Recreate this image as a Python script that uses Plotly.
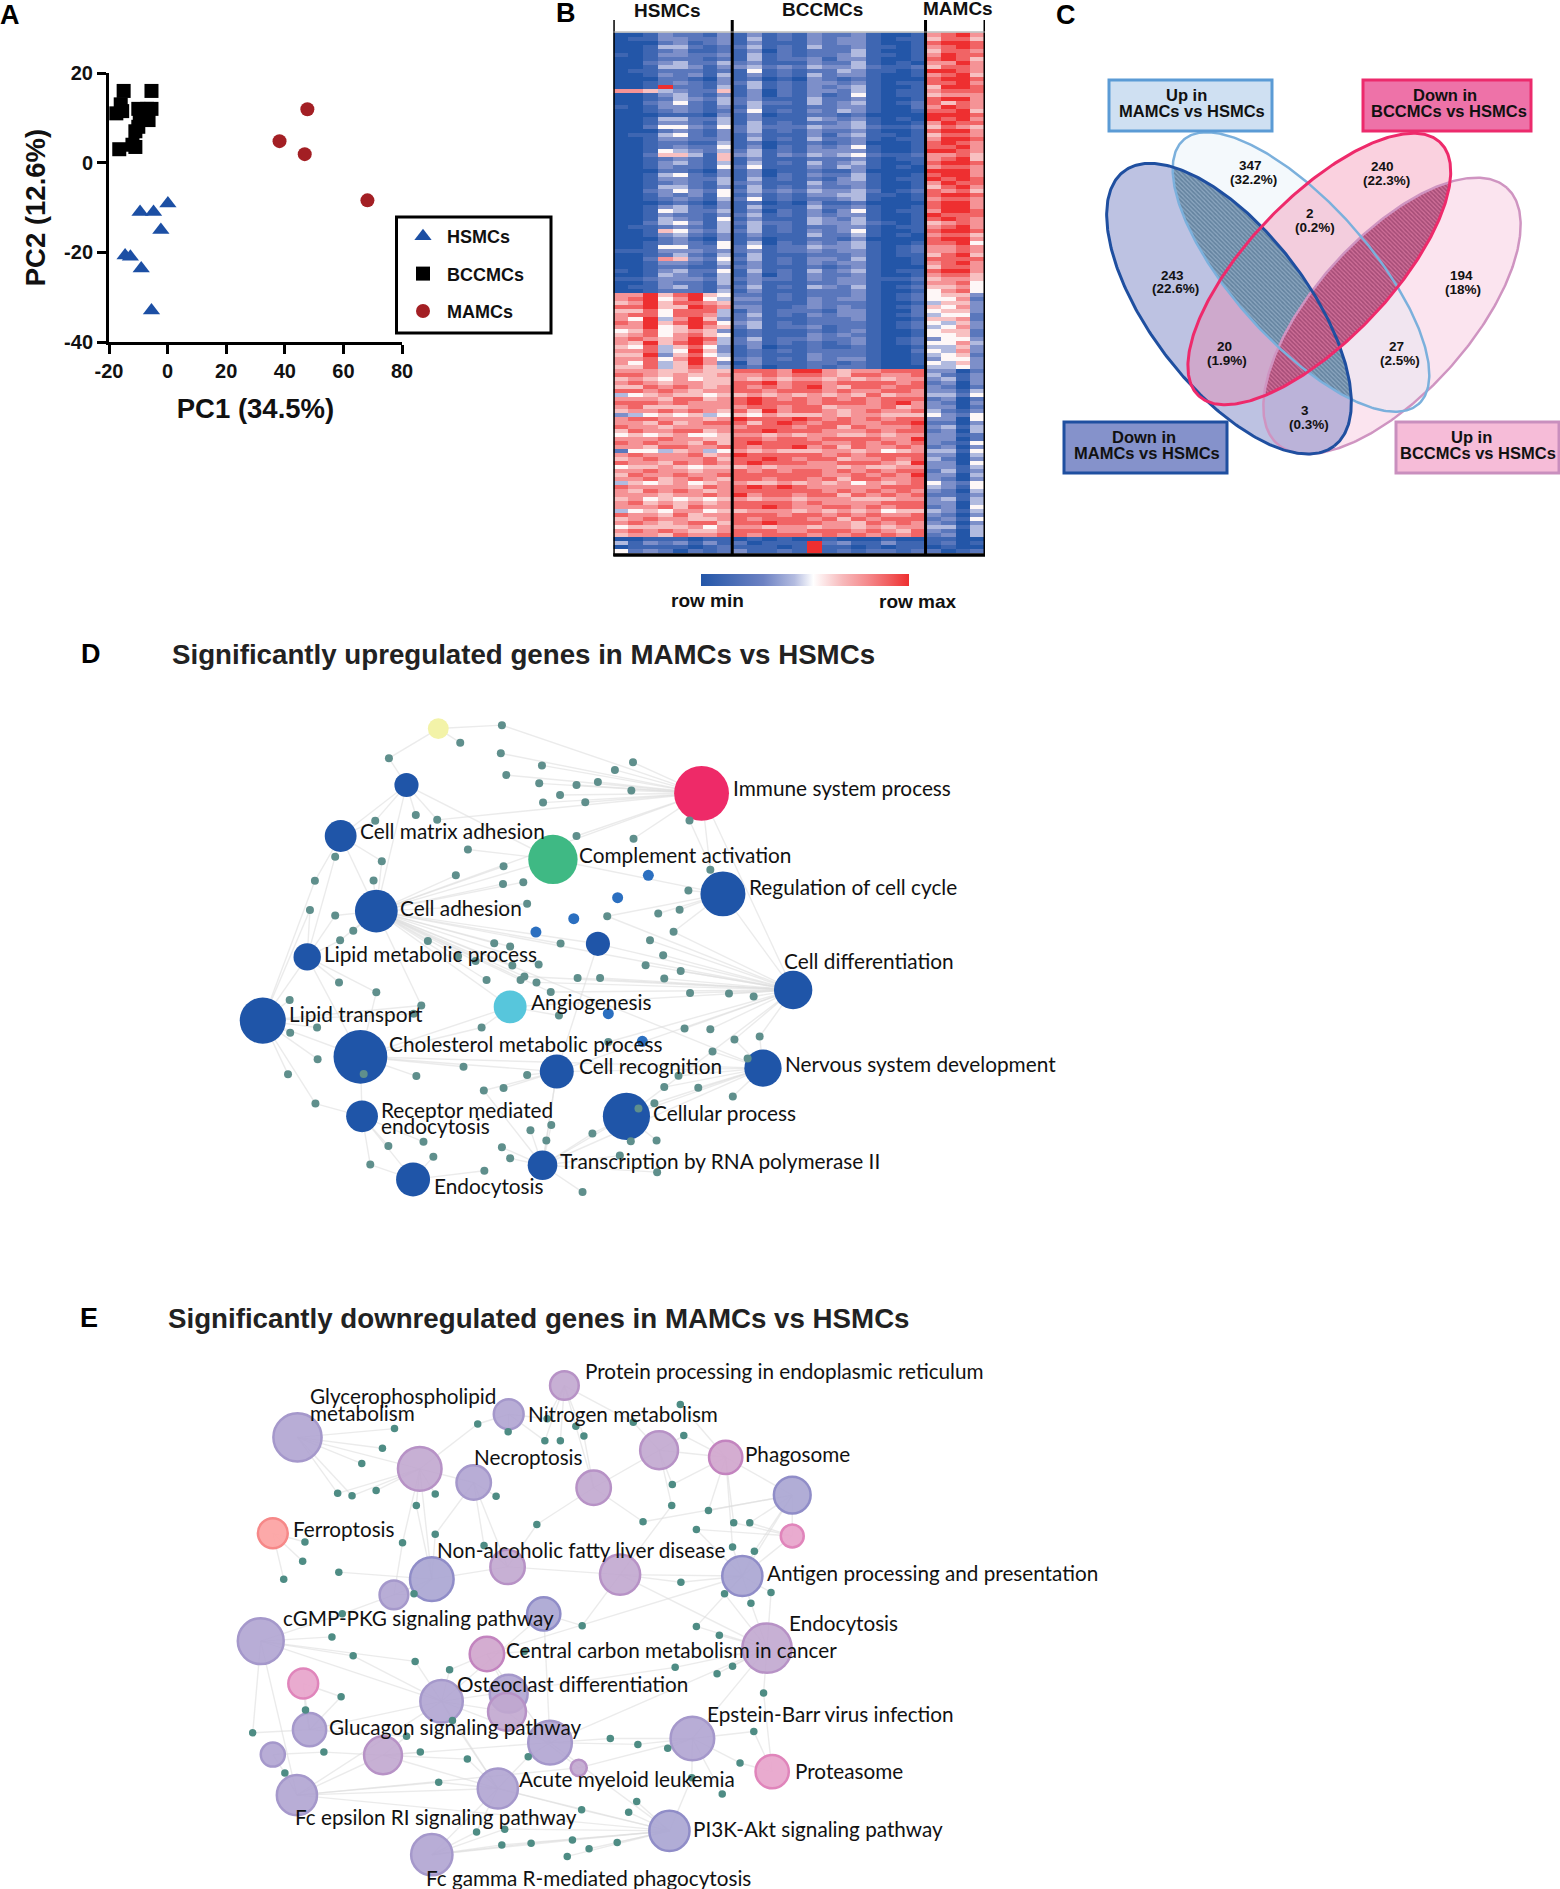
import numpy as np
import plotly.graph_objects as go

W, H = 1560, 1889
SANS = "Liberation Sans"
NET = "Lato"

# ---------- Panel A ----------
hsmc_x = [0.1, -9.4, -4.8, -2.3, -14.5, -12.7, -9.0, -5.5]
hsmc_y = [-9.1, -11, -11, -15, -20.7, -21, -23.6, -33]
bccmc_x = [-15, -5.5, -16, -17.5, -15.5, -10, -9.5, -5.5, -7, -6.5, -8, -11, -10, -16.5, -12, -11]
bccmc_y = [16, 16, 13, 11, 11.5, 12, 11, 12, 12, 9.5, 10.5, 7, 8, 3, 4, 3.5]
mamc_x = [47.7, 38.2, 46.8, 68.2]
mamc_y = [11.9, 4.8, 1.9, -8.4]
pca_xticks = [-20, 0, 20, 40, 60, 80]
pca_yticks = [-40, -20, 0, 20]

# ---------- Panel B: one string per gene row, 0 = row min ... 9 = row max ----------
heat_groups = ["HSMCs", "BCCMCs", "MAMCs"]
heat_rows = """
00132213 1312132231001 7897
01133223 1412132331011 6886
00023123 1311132331001 8998
00144212 2412142231101 7898
00123112 1302122241001 6887
10133223 1412122341101 7988
00122212 1412231331001 8986
00234224 2311132241010 7797
00144313 3423243342112 6887
01122212 1512122431101 9987
00132314 1312142331001 7896
00022103 1201032121000 8998
00123213 2412133231011 8897
00192214 1412132341001 6998
77643226 1302133241011 7888
00134213 1302131251011 6777
00124324 2311142231001 8997
00235214 2422142341012 8687
10133213 1411122331002 7987
00123212 2512132431001 8896
00011103 1301122120000 9998
00144224 1311143231010 9897
00133214 1412122341001 7988
00255325 2422243342112 6876
00023213 2412132231001 8997
01145213 1311131341101 6887
00133223 1412142231011 7998
00122114 1201121230001 8987
00123225 1302132351001 8897
00154324 2412133331001 9987
00266416 3413243452112 7786
00123216 1311122231011 7896
00134214 1412142341001 8998
00132215 2511132431010 7887
00022103 1301121130000 9997
00145213 1302132241001 8997
00133224 1412121341011 9898
00123214 2311142331001 7988
00144213 1412132231001 6897
00235325 2423243342012 8786
00132315 1312133441101 8998
00123214 2512122341001 7887
00012103 1201031120000 8997
00134213 1411142231001 8997
00154224 1302131351011 7998
00132213 2412132331001 9888
00143215 1311143241001 8987
00245314 2422143342101 6787
01123214 1412122331011 7897
00165324 2412132351001 8998
00134213 1311142241010 7886
00023103 1201122130000 8997
00123215 1402132341001 8895
00155225 2512243341012 7787
11133323 2312232331012 7787
00124214 1411122231011 6896
00276325 2412133241001 8888
00133214 1312132331001 7897
00122113 2311121231000 6887
10134225 1412142341011 8997
00143214 1302132231001 7886
11233324 2322132331112 6776
00132214 1311122331001 7785
01134213 2412143241012 6675
00122214 1311122231001 5785
77968965 2212122231012 5663
78957954 3312132331012 5572
67968876 2211132221001 4663
88966987 3311232321012 6573
66858884 1312221331002 5663
78858874 2412132331012 4552
75947963 2311122231001 6672
87968985 3412122221012 5463
77956976 2412231221012 4573
56856763 1211121231001 5662
67857865 1211132321001 5562
78767984 2412232231012 3553
76968974 2312121231012 5574
65846853 1301121121001 4463
77845963 1212122221002 5473
66936854 1211132221001 4562
77857975 2312132331001 3553
75846973 0311122121001 5463
66846864 1201121221000 4453
77766766 8887997677888 3302
88767667 7787887688778 4213
67657566 7676776767677 3413
78767766 8897887888878 2303
66878767 8787897688788 3202
88787677 8878887877887 3314
45676656 6767676768677 4425
77768867 8987878787888 2302
88878777 8988878887897 3203
78666777 7887886777867 3302
67787876 8697887678778 4213
34565645 6576667677666 5325
78877767 9888987878788 3305
77686788 8689878877889 2203
87767777 7888788687778 3414
68778867 8898887778788 2304
56567556 7767677667677 3312
77787766 8878878888779 3302
87877686 8988887787878 3215
77688778 8788978687787 2303
25546745 7676667767567 4415
78777867 9888887878888 3304
67877786 8898788677878 4203
87768787 8988877888769 3305
56676566 6767777676677 3314
77877677 8787887878788 2413
68778778 8888887787879 3304
77867876 8878878688778 3203
46567567 7667676757678 5325
87777687 8989877777888 4315
76878767 8888887878787 3204
77767787 9788788687878 2213
67565656 7677677766677 3414
78676767 8888787777888 3304
77786877 8898778878788 2305
45657756 6777676767566 4314
87768677 8887887878778 3203
67877667 8788878687888 2315
78767886 8898887768787 3203
56666757 7767767767677 4414
78787667 8887788878768 3204
67768778 8788878787878 2304
00111011 0101001000100 1100
41323131 2011192311311 1201
01111012 1110191101011 0100
52320212 3112191212212 2012
""".split("\n")
heat_z = [[int(c) for c in r.replace(" ", "")] for r in heat_rows if r.strip()]

# ---------- Panel C ----------
venn_counts = ["347", "240", "2", "243", "194", "20", "27", "3"]
venn_pcts = ["(32.2%)", "(22.3%)", "(0.2%)", "(22.6%)", "(18%)", "(1.9%)", "(2.5%)", "(0.3%)"]

# ---------- Panel D network ----------
d_hub_key = list("YBIMCRAULDVTHGNPKSE")
d_hub_x = [398, 340, 878, 220, 607, 917, 285, 689, 159, 1045, 529, 78, 256, 614, 990, 741, 259, 588, 352]
d_hub_y = [112, 276, 300, 424, 492, 592, 642, 737, 775, 871, 920, 960, 1065, 1108, 1098, 1238, 1238, 1380, 1421]
d_hub_w = [38, 44, 100, 58, 90, 82, 78, 44, 50, 70, 60, 84, 98, 62, 68, 86, 58, 54, 62]
d_hub_col = ["#f3f3a8", "#1f55a8", "#ee2a68", "#1f55a8", "#3fb984", "#1f55a8", "#1f55a8", "#1f55a8", "#1f55a8",
             "#1f55a8", "#57c6dc", "#1f55a8", "#1f55a8", "#1f55a8", "#1f55a8", "#1f55a8", "#1f55a8", "#1f55a8", "#1f55a8"]
d_mid_x = [781, 725, 645, 576, 770, 708]
d_mid_y = [538, 603, 664, 703, 1020, 940]
d_small = [
    (514,102,"YI"),(438,153,"Y"),(308,198,"YB"),(512,184,"I"),(587,219,"I"),(753,210,"I"),(720,232,"I"),(522,247,"I"),
    (582,271,"I"),(650,276,"I"),(689,267,"I"),(750,292,"I"),(620,305,"I"),(589,327,"I"),(666,326,"I"),(357,363,"B"),
    (396,377,"BI"),(283,380,"MB"),(650,424,"I"),(754,432,"I"),(856,379,"IR"),(452,463,"C"),(295,497,"MA"),(210,484,"ML"),
    (517,512,"A"),(430,538,"A"),(516,563,"A"),(553,558,"A"),(173,554,"TM"),(280,553,"A"),(560,621,"A"),(164,639,"TL"),
    (210,655,"AL"),(243,699,"A"),(219,727,"AL"),(854,582,"R"),(894,522,"RI"),(838,638,"R"),(799,649,"R"),(706,657,"RD"),
    (827,702,"RD"),(784,727,"D"),(621,736,"A"),(379,729,"A"),(500,735,"A"),(529,745,"A"),(434,773,"A"),(466,787,"A"),
    (808,770,"D"),(776,799,"D"),(581,797,"A"),(533,800,"A"),(840,816,"D"),(810,838,"D"),(693,836,"D"),(652,836,"D"),
    (555,832,"AD"),(548,842,"A"),(486,842,"A"),(577,849,"D"),(217,849,"L"),(285,878,"LH"),(857,880,"D"),(928,881,"D"),
    (973,890,"D"),(603,877,"DA"),(127,900,"T"),(367,916,"AT"),(353,940,"T"),(128,995,"T"),(177,980,"T"),(477,980,"VH"),
    (618,945,"V"),(847,983,"D"),(894,985,"D"),(938,1015,"ND"),(984,1006,"ND"),(708,1022,"D"),(898,1050,"N"),(444,1094,"H"),
    (358,1121,"H"),(178,1072,"T"),(124,1116,"T"),(560,1118,"G"),(262,1115,"H"),(836,1120,"N"),(962,1070,"N"),(810,1153,"N"),
    (872,1155,"N"),(935,1180,"N"),(517,1156,"G"),(481,1163,"GS"),(792,1200,"NP"),(763,1215,"P"),(174,1201,"TK"),(604,1263,"S"),
    (566,1278,"S"),(679,1288,"PS"),(749,1310,"P"),(796,1308,"P"),(595,1308,"SG"),(307,1324,"K"),(371,1312,"K"),(514,1328,"S"),
    (389,1355,"E"),(529,1360,"S"),(274,1378,"KE"),(729,1352,"S"),(482,1396,"E"),(797,1400,"S"),(661,1458,"S"),
]
d_hub_edges = ["BM","BA","AD","AU","HN","HG","TH","LH","KH","VD","RD","DG","DP","NP","SG","SP","MA","CR","BC","KE",
               "IA","UD","TL","GN","SN","CA","AV","VH","ID","AN","UG"]
d_labels = [
    ("Immune system process",931,283),("Cell matrix adhesion",252,408),("Complement activation",651,477),
    ("Regulation of cell cycle",961,570),("Cell adhesion",325,631),("Lipid metabolic process",186,765),
    ("Cell differentiation",1024,786),("Angiogenesis",564,905),("Lipid transport",122,938),
    ("Cholesterol metabolic process",304,1026),("Cell recognition",650,1089),("Nervous system development",1026,1084),
    ("Cellular process",786,1226),("Receptor mediated",289,1218),("endocytosis",289,1265),
    ("Transcription by RNA polymerase II",616,1365),("Endocytosis",386,1439),
]

# ---------- Panel E network ----------
e_hub_key = list("abcdefghijklmnopqrstuvwxyzABCDEFGHI")
e_hub_x = [600,135,503,765,881,348,442,651,997,92,997,501,697,369,910,303,564,71,953,465,145,386,503,500,156,575,823,92,284,625,962,484,134,783,369]
e_hub_y = [130,278,212,315,335,368,407,422,443,552,560,648,670,683,674,728,782,860,880,897,981,1032,1010,1062,1113,1150,1138,1184,1186,1222,1233,1281,1300,1402,1470]
e_hub_w = [50,84,52,66,58,76,60,60,64,52,40,60,70,76,70,50,58,80,86,60,52,74,66,66,58,76,76,42,66,28,58,70,70,70,72]
e_hub_tone = ["m","p","p","m","k","m","p","m","b","s","r","m","m","b","b","p","b","p","m","k","r","p","p","m","p","p","p","p","m","m","r","p","p","b","p"]
e_small = [
    (802,184,"e"),(304,253,"b"),(449,240,"cf"),(502,262,"c"),(570,225,"ac"),(620,246,"ah"),(720,235,"da"),(634,274,"ah"),
    (808,273,"ed"),(566,288,"ca"),(593,288,"a"),(283,309,"b"),(247,353,"b"),(205,438,"bf"),(230,445,"bf"),(272,430,"f"),
    (375,440,"f"),(342,473,"fn"),(481,446,"g"),(788,413,"de"),(787,473,"dm"),(851,487,"ei"),(737,519,"hi"),(895,522,"ek"),
    (923,522,"ik"),(830,541,"ko"),(552,527,"hl"),(375,555,"gn"),(318,579,"fp"),(148,577,"j"),(144,632,"j"),(460,587,"lg"),
    (893,591,"oe"),(931,603,"io"),(111,683,"j"),(207,663,"n"),(803,692,"mo"),(338,725,"np"),(879,725,"os"),(960,721,"os"),
    (925,752,"os"),(213,782,"rp"),(631,816,"mq"),(195,848,"r"),(830,818,"so"),(870,843,"s"),(232,902,"rv"),(340,918,"vr"),
    (400,942,"vt"),(530,890,"t"),(793,935,"sv"),(866,953,"s"),(893,932,"s"),(947,1008,"sE"),(211,1019,"uy"),(149,1057,"yu"),
    (405,1087,"vF"),(57,1122,"yr"),(325,1132,"Cy"),(930,1118,"AE"),(680,1138,"zA"),(728,1155,"zA"),(780,1166,"A"),(181,1177,"BC"),
    (349,1177,"C"),(537,1190,"zF"),(431,1197,"CF"),(906,1208,"EA"),(113,1237,"BG"),(381,1263,"GF"),(822,1250,"AH"),(875,1297,"A"),
    (726,1318,"H"),(712,1349,"H"),(630,1342,"HF"),(447,1405,"IF"),(496,1397,"IH"),(491,1442,"IH"),(542,1437,"IH"),(614,1428,"IH"),
    (643,1453,"H"),(692,1435,"H"),(605,1475,"H"),
]
e_hub_edges = ["bf","fg","fn","gl","hd","de","ei","ik","io","ko","ms","ot","qv","rv","rG","uy","vz","vx","vG","GF","GC",
               "Cz","yv","tz","zs","As","FH","zH","wt","GH","mo","lm","nl","np","qz","CF","xD","IF","vF","AD","GD"]
e_labels = [
    ("Protein processing in endoplasmic reticulum",632,88),("Glycerophospholipid",154,161),("metabolism",154,208),
    ("Nitrogen metabolism",533,210),("Phagosome",912,326),("Necroptosis",439,334),("Ferroptosis",124,541),
    ("Non-alcoholic fatty liver disease",374,599),("Antigen processing and presentation",950,666),
    ("cGMP-PKG signaling pathway",106,793),("Endocytosis",987,808),("Central carbon metabolism in cancer",494,886),
    ("Osteoclast differentiation",409,982),("Epstein-Barr virus infection",845,1069),("Glucagon signaling pathway",186,1104),
    ("Proteasome",998,1231),("Acute myeloid leukemia",517,1254),("Fc epsilon RI signaling pathway",128,1361),
    ("PI3K-Akt signaling pathway",821,1398),("Fc gamma R-mediated phagocytosis",356,1536),
]
e_tones = {"p": ("rgba(176,164,210,0.9)", "#a598cb"), "m": ("rgba(193,167,207,0.9)", "#b792c6"),
           "b": ("rgba(170,166,210,0.92)", "#908dc8"), "k": ("rgba(208,166,205,0.92)", "#c384bf"),
           "r": ("rgba(232,166,204,0.95)", "#e085bb"), "s": ("rgba(252,164,164,0.95)", "#f68888")}


def xdom(a, b):
    return [a / W, b / W]


def ydom(a, b):
    return [1 - b / H, 1 - a / H]


def ellipse(cx, cy, a, b, deg):
    t = np.linspace(0, 2 * np.pi, 361)
    r = np.radians(deg)
    return (cx + a * np.cos(t) * np.cos(r) - b * np.sin(t) * np.sin(r),
            cy + a * np.cos(t) * np.sin(r) + b * np.sin(t) * np.cos(r))


def inside(px, py, e):
    cx, cy, a, b, deg = e
    r = np.radians(deg)
    dx, dy = px - cx, py - cy
    u = dx * np.cos(r) + dy * np.sin(r)
    v = -dx * np.sin(r) + dy * np.cos(r)
    return (u / a) ** 2 + (v / b) ** 2 <= 1


def overlap(e1, e2):
    x1, y1 = ellipse(*e1)
    x2, y2 = ellipse(*e2)
    m1, m2 = inside(x1, y1, e2), inside(x2, y2, e1)
    px = np.r_[x1[m1], x2[m2]]
    py = np.r_[y1[m1], y2[m2]]
    o = np.argsort(np.arctan2(py - py.mean(), px - px.mean()))
    return np.r_[px[o], px[o][0]], np.r_[py[o], py[o][0]]


fig = go.Figure()

# A
fig.add_trace(go.Scatter(x=hsmc_x, y=hsmc_y, mode="markers", name="HSMCs", legendgroup="a",
                         marker=dict(symbol="triangle-up", color="#1c4fa4", size=15, line=dict(width=0)), xaxis="x", yaxis="y"))
fig.add_trace(go.Scatter(x=bccmc_x, y=bccmc_y, mode="markers", name="BCCMCs", legendgroup="b",
                         marker=dict(symbol="square", color="#000000", size=14, line=dict(width=0)), xaxis="x", yaxis="y"))
fig.add_trace(go.Scatter(x=mamc_x, y=mamc_y, mode="markers", name="MAMCs", legendgroup="c",
                         marker=dict(symbol="circle", color="#a31f24", size=14, line=dict(width=0)), xaxis="x", yaxis="y"))

# B
fig.add_trace(go.Heatmap(
    z=heat_z, xaxis="x2", yaxis="y2", zmin=0, zmax=9, showlegend=False,
    colorscale=[[0, "#2356a8"], [0.3, "#6d82c3"], [0.45, "#b4bce0"], [0.54, "#ffffff"],
                [0.68, "#f7b9bb"], [0.8, "#f58a8d"], [0.9, "#f15f60"], [1, "#ee2f30"]],
    colorbar=dict(orientation="h", x=701 / W, xanchor="left", y=1 - 574 / H, yanchor="top",
                  lenmode="pixels", len=208, thicknessmode="pixels", thickness=12, xpad=0, ypad=0,
                  outlinewidth=0, showticklabels=False, ticks=""),
))

# C
E_DOWN_M = (1229, 308.7, 173, 78.5, 52.5)
E_UP_M = (1301, 272, 176.8, 68.7, 48.3)
E_DOWN_B = (1319.3, 269, 175, 71.2, -46.3)
E_UP_B = (1392, 315.8, 172, 77.8, -48.1)
fills = [(E_UP_B, "rgba(243,180,212,0.36)"), (E_UP_M, "rgba(214,232,246,0.28)"),
         (E_DOWN_M, "rgba(105,115,188,0.44)"), (E_DOWN_B, "rgba(240,120,160,0.34)")]
for e, c in fills:
    ex, ey = ellipse(*e)
    fig.add_trace(go.Scatter(x=ex, y=ey, mode="lines", fill="toself", fillcolor=c, line=dict(width=0),
                             showlegend=False, hoverinfo="skip", xaxis="x3", yaxis="y3"))
for e1, e2, fg, bg in [(E_DOWN_M, E_UP_M, "#3d5f80", "#8ba6bf"), (E_DOWN_B, E_UP_B, "#7c2a55", "#cf6f98")]:
    ox, oy = overlap(e1, e2)
    fig.add_trace(go.Scatter(x=ox, y=oy, mode="lines", fill="toself", line=dict(width=0),
                             fillpattern=dict(shape="\\", size=3, solidity=0.55, fgcolor=fg, bgcolor=bg),
                             showlegend=False, hoverinfo="skip", xaxis="x3", yaxis="y3"))
for e, c, w in [(E_UP_B, "#cf94c1", 2.5), (E_UP_M, "#7bb0dc", 2.5), (E_DOWN_M, "#1f4fa0", 3), (E_DOWN_B, "#ee2a6b", 3)]:
    ex, ey = ellipse(*e)
    fig.add_trace(go.Scatter(x=ex, y=ey, mode="lines", line=dict(color=c, width=w),
                             showlegend=False, hoverinfo="skip", xaxis="x3", yaxis="y3"))


def network(hub_key, hub_x, hub_y, small, hub_edges, ax, ay):
    pos = {k: (x, y) for k, x, y in zip(hub_key, hub_x, hub_y)}
    ex, ey = [], []
    for sx, sy, links in small:
        for k in links:
            ex += [sx, pos[k][0], None]
            ey += [sy, pos[k][1], None]
    for pair in hub_edges:
        a, b = pos[pair[0]], pos[pair[1]]
        ex += [a[0], b[0], None]
        ey += [a[1], b[1], None]
    fig.add_trace(go.Scatter(x=ex, y=ey, mode="lines", line=dict(color="rgba(222,222,222,0.6)", width=1.4),
                             showlegend=False, hoverinfo="skip", xaxis=ax, yaxis=ay))


# D
D_SX, E_SX = 1568 / 860, 1568 / 900
network(d_hub_key, d_hub_x, d_hub_y, d_small, d_hub_edges, "x4", "y4")
fig.add_trace(go.Scatter(x=d_hub_x, y=d_hub_y, mode="markers", showlegend=False, hoverinfo="skip", xaxis="x4", yaxis="y4",
                         marker=dict(size=[w / D_SX for w in d_hub_w], color=d_hub_col, opacity=1, line=dict(width=0))))
fig.add_trace(go.Scatter(x=d_mid_x, y=d_mid_y, mode="markers", showlegend=False, hoverinfo="skip", xaxis="x4", yaxis="y4",
                         marker=dict(size=11, color="#2b6fc0", line=dict(width=0))))
fig.add_trace(go.Scatter(x=[s[0] for s in d_small], y=[s[1] for s in d_small], mode="markers", showlegend=False,
                         hoverinfo="skip", xaxis="x4", yaxis="y4", marker=dict(size=8, color="#5f8f8c", line=dict(width=0))))

# E
network(e_hub_key, e_hub_x, e_hub_y, e_small, e_hub_edges, "x5", "y5")
fig.add_trace(go.Scatter(x=e_hub_x, y=e_hub_y, mode="markers", showlegend=False, hoverinfo="skip", xaxis="x5", yaxis="y5",
                         marker=dict(size=[w / E_SX for w in e_hub_w], color=[e_tones[t][0] for t in e_hub_tone], opacity=1,
                                     line=dict(width=2.5, color=[e_tones[t][1] for t in e_hub_tone]))))
fig.add_trace(go.Scatter(x=[s[0] for s in e_small], y=[s[1] for s in e_small], mode="markers", showlegend=False,
                         hoverinfo="skip", xaxis="x5", yaxis="y5", marker=dict(size=7.5, color="#4e8c84", line=dict(width=0))))

ann = []


def text(x, y, s, size, ref="3", anchor="center", bold=True, color="#111111", family=SANS):
    ann.append(dict(x=x, y=y, xref="x" + ref, yref="y" + ref, text=s, showarrow=False, xanchor=anchor, yanchor="middle",
                    font=dict(size=size, color=color, family=family, weight=700 if bold else 400)))


for s, x, y in [("A", 10, 15), ("B", 566, 13), ("C", 1066, 15), ("D", 91, 654), ("E", 89, 1318)]:
    text(x, y, s, 27, color="#000000")
text(170, 654, "Significantly upregulated genes in MAMCs vs HSMCs", 27.7, anchor="left", color="#222222")
text(166, 1318, "Significantly downregulated genes in MAMCs vs HSMCs", 27.7, anchor="left", color="#222222")
for s, x, y in zip(heat_groups, [667, 822, 958], [10, 9, 8]):
    text(x, y, s, 19)
text(707, 600, "row min", 19)
text(918, 601, "row max", 19)

venn_pos = [(630, 495, 640, 537), (1028, 500, 1038, 541), (811, 641, 824, 682), (397, 825, 407, 866),
            (1263, 826, 1270, 867), (553, 1039, 560, 1080), (1070, 1040, 1080, 1081), (795, 1232, 807, 1273)]
for c, p, q in zip(venn_counts, venn_pcts, venn_pos):
    text(1040 + q[0] / 3, q[1] / 3, c, 13.5)
    text(1040 + q[2] / 3, q[3] / 3, p, 13.5)

boxes = [
    (1109, 80, 1272, 131, "#cfe0f2", "#5b9bd5", "Up in", "MAMCs vs HSMCs", 1186, 1192),
    (1363, 80, 1531, 131, "#ee72a8", "#ec2a6c", "Down in", "BCCMCs vs HSMCs", 1445, 1449),
    (1064, 422, 1227, 473, "#8592cb", "#1f4fa0", "Down in", "MAMCs vs HSMCs", 1144, 1147),
    (1396, 422, 1559, 473, "#f6bcd8", "#c98fbe", "Up in", "BCCMCs vs HSMCs", 1471, 1478),
]
shapes = []
for x0, y0, x1, y1, f, l, t1, t2, c1, c2 in boxes:
    shapes.append(dict(type="rect", xref="x3", yref="y3", x0=x0, y0=y0, x1=x1, y1=y1, fillcolor=f, line=dict(color=l, width=3)))
    text(c1, y0 + 15, t1, 16.5)
    text(c2, y0 + 31, t2, 16.5)

# legend frame of panel A
shapes.append(dict(type="rect", xref="x3", yref="y3", x0=396.5, y0=217, x1=551, y1=333, line=dict(color="#000000", width=3)))
# heatmap dividers
for v in [-0.5, 7.5, 20.5, 24.5]:
    shapes.append(dict(type="line", xref="x2", yref="y3", x0=v, x1=v, y0=20, y1=556, line=dict(color="#000000", width=3)))
shapes.append(dict(type="line", xref="x2", yref="y3", x0=-0.6, x1=24.6, y0=555, y1=555, line=dict(color="#000000", width=3.5)))
shapes.append(dict(type="line", xref="x2", yref="y3", x0=-0.5, x1=24.5, y0=32, y1=32, line=dict(color="#9a9a9a", width=1)))

for s, x, y in d_labels:
    text(x, y, s, 20.8, ref="4", anchor="left", bold=False, family=NET)
for s, x, y in e_labels:
    text(x, y, s, 20.7, ref="5", anchor="left", bold=False, family=NET)

hidden = dict(visible=False, showgrid=False, zeroline=False)
axis_font = dict(size=20, family=SANS, color="#111111", weight=700)
title_font = dict(size=27.5, family=SANS, color="#111111", weight=700)
fig.update_layout(
    width=W, height=H, margin=dict(l=0, r=0, t=0, b=0), paper_bgcolor="white", plot_bgcolor="rgba(0,0,0,0)",
    font=dict(family=SANS),
    xaxis=dict(domain=xdom(109, 402), range=[-20, 80], tickvals=pca_xticks, ticktext=[str(v) for v in pca_xticks],
               showgrid=False, zeroline=False, showline=True, linecolor="#000", linewidth=3, ticks="outside", ticklen=9,
               tickwidth=3, tickcolor="#000", tickfont=axis_font, title=dict(text="PC1 (34.5%)", font=title_font, standoff=18),
               anchor="y", automargin=False),
    yaxis=dict(domain=ydom(73, 342), range=[-40, 20], tickvals=pca_yticks, ticktext=[str(v) for v in pca_yticks],
               showgrid=False, zeroline=False, showline=True, linecolor="#000", linewidth=3, ticks="outside", ticklen=9,
               tickwidth=3, tickcolor="#000", tickfont=axis_font, title=dict(text="PC2 (12.6%)", font=title_font, standoff=11),
               anchor="x", automargin=False),
    xaxis2=dict(domain=xdom(613.3, 985), range=[-0.5, 24.5], anchor="y2", **hidden),
    yaxis2=dict(domain=ydom(32.5, 553.6), range=[len(heat_z) - 0.5, -0.5], anchor="x2", **hidden),
    xaxis3=dict(domain=[0, 1], range=[0, W], anchor="y3", **hidden),
    yaxis3=dict(domain=[0, 1], range=[H, 0], anchor="x3", **hidden),
    xaxis4=dict(domain=xdom(220, 1080), range=[0, 1568], anchor="y4", **hidden),
    yaxis4=dict(domain=ydom(690, 1230), range=[1568, 0], anchor="x4", **hidden),
    xaxis5=dict(domain=xdom(220, 1120), range=[0, 1568], anchor="y5", **hidden),
    yaxis5=dict(domain=ydom(1340, 1889), range=[1568, 0], anchor="x5", **hidden),
    legend=dict(x=399 / W, y=1 - 218 / H, xanchor="left", yanchor="top", bgcolor="rgba(0,0,0,0)", borderwidth=0,
                font=dict(size=18, family=SANS, color="#111111", weight=700), tracegroupgap=11, itemwidth=38,
                traceorder="grouped"),
    annotations=ann, shapes=shapes,
)
fig.write_html("out.html", config={"displayModeBar": False},
               post_script="document.body.style.margin='0';document.documentElement.style.overflow='hidden';")
